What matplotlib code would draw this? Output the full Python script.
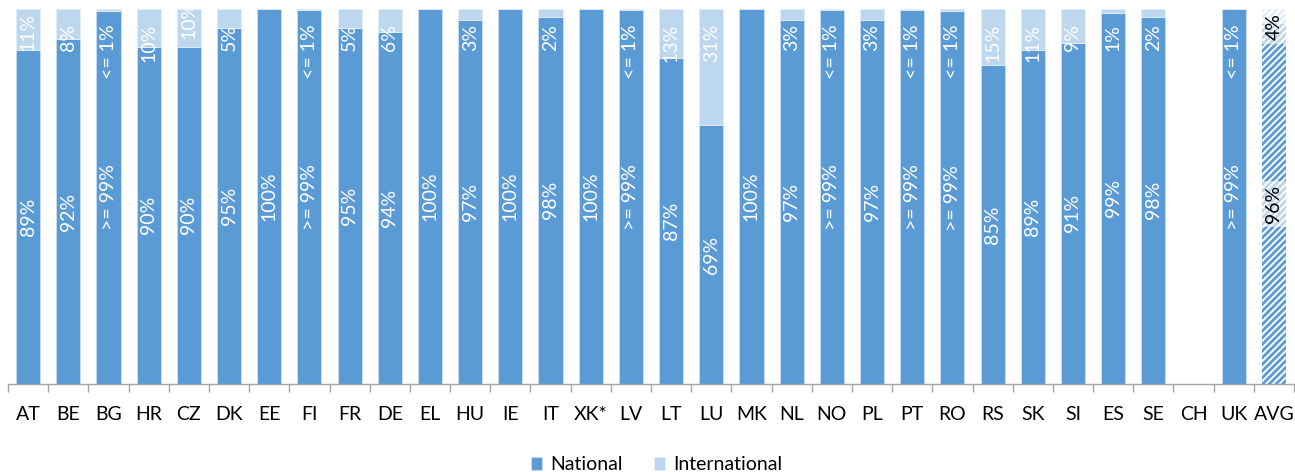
import matplotlib
matplotlib.use('Agg')
import matplotlib.pyplot as plt
import numpy as np

#############################################
# national vs international share per country
#############################################

countries = ['AT', 'BE', 'BG', 'HR', 'CZ', 'DK', 'EE', 'FI', 'FR', 'DE', 'EL', 'HU',
             'IE', 'IT', 'XK*', 'LV', 'LT', 'LU', 'MK', 'NL', 'NO', 'PL', 'PT', 'RO',
             'RS', 'SK', 'SI', 'ES', 'SE', 'CH', 'UK', 'AVG']

national = [89, 92, 99.5, 90, 90, 95, 100, 99.7, 95, 94, 100, 97,
            100, 98, 100, 99.8, 87, 69, 100, 97, 99.7, 97, 99.7, 99.4,
            85, 89, 91, 99, 98, np.nan, 99.9, 96]
international = [11, 8, 0.5, 10, 10, 5, 0, 0.3, 5, 6, 0, 3,
                 0, 2, 0, 0.2, 13, 31, 0, 3, 0.3, 3, 0.3, 0.6,
                 15, 11, 9, 1, 2, np.nan, 0.1, 4]

nat_labels = ['89%', '92%', '>= 99%', '90%', '90%', '95%', '100%', '>= 99%', '95%', '94%', '100%', '97%',
              '100%', '98%', '100%', '>= 99%', '87%', '69%', '100%', '97%', '>= 99%', '97%', '>= 99%', '>= 99%',
              '85%', '89%', '91%', '99%', '98%', '', '>= 99%', '96%']
int_labels = ['11%', '8%', '<= 1%', '10%', '10%', '5%', '', '<= 1%', '5%', '6%', '', '3%',
              '', '2%', '', '<= 1%', '13%', '31%', '', '3%', '<= 1%', '3%', '<= 1%', '<= 1%',
              '15%', '11%', '9%', '1%', '2%', '', '<= 1%', '4%']

c_nat = '#5B9BD5'
c_int = '#BDD7EE'

plt.rcParams['font.family'] = ['Lato', 'DejaVu Sans']
plt.rcParams['hatch.linewidth'] = 2.0

fig = plt.figure(figsize=(12.95, 4.72), dpi=100)
ax = fig.add_axes([8/1295, 88/472, 1286/1295, 375/472])

x = np.arange(len(countries))
nat = np.array(national, dtype=float)
intl = np.array(international, dtype=float)
w = 0.6

# normal bars (everything except the average)
n = len(countries) - 1
ax.bar(x[:n], nat[:n], w, color=c_nat, edgecolor='#c9def2', linewidth=0.6, label='National')
ax.bar(x[:n], intl[:n], w, bottom=nat[:n], color=c_int, edgecolor='#e3eef8', linewidth=0.6,
       label='International')

# hatched average bar
ax.bar(x[n], nat[n], w, color='white', edgecolor=c_nat, hatch='/////', linewidth=0)
ax.bar(x[n], intl[n], w, bottom=nat[n], color='white', edgecolor=c_int, hatch='/////', linewidth=0)

# data labels
fs = 14
for i in range(len(countries)):
    if np.isnan(nat[i]):
        continue
    if i == n:
        box = dict(facecolor='white', alpha=0.6, edgecolor='none', pad=3)
        ax.text(x[i], nat[i] / 2, nat_labels[i], rotation=90, ha='center', va='center',
                color='black', fontsize=fs, bbox=box)
        ax.text(x[i], 99.0, int_labels[i], rotation=90, ha='center', va='top',
                color='black', fontsize=fs, bbox=box)
        continue
    ax.text(x[i], nat[i] / 2, nat_labels[i], rotation=90, ha='center', va='center',
            color='white', fontsize=fs)
    if int_labels[i]:
        top = 96.0
        if countries[i] == 'AT':
            top = 98.9
        elif countries[i] == 'CZ':
            top = 102.2
        ax.text(x[i], top, int_labels[i], rotation=90, ha='center', va='top',
                color='white', fontsize=fs, clip_on=False)

ax.set_xlim(-0.5, len(countries) - 0.5)
ax.set_ylim(0, 100)
ax.set_yticks([])
for s in ['top', 'right', 'left']:
    ax.spines[s].set_visible(False)
ax.spines['bottom'].set_color('#a6a6a6')
ax.spines['bottom'].set_linewidth(1.0)

ax.set_xticks(x)
ax.set_xticklabels(countries, fontsize=14)
ax.set_xticks(np.arange(-0.5, len(countries)), minor=True)
ax.tick_params(axis='x', which='major', length=0, pad=16)
ax.tick_params(axis='x', which='minor', length=6, color='#a6a6a6', width=1.0)

fig.legend(loc='lower center', bbox_to_anchor=(0.507, -0.04), ncol=2, frameon=False,
           fontsize=14, handlelength=0.6, handleheight=0.6, columnspacing=1.6,
           handletextpad=0.4)

fig.savefig('out.png', dpi=100)
